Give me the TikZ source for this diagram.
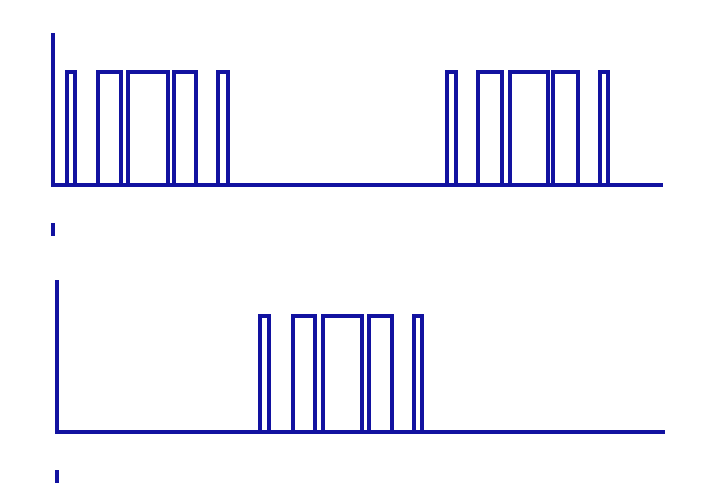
\documentclass[tikz,border=0pt]{standalone}
\definecolor{sigblue}{RGB}{18,18,160}
\begin{document}
\begin{tikzpicture}[x=1pt,y=-1pt,
  sig/.style={draw=sigblue,line width=3.2pt,line join=miter}]
\fill[white] (0,0) rectangle (702,483);
\useasboundingbox (0,0) rectangle (702,483);
% top panel axes
\draw[sig] (53,33) -- (53,185) -- (663,185);
\draw[sig] (53,223) -- (53,236);
\foreach \l/\r in {67/75,98/121,128/168,174/196,218/228,447/456,478/502,510/548,553/578,600/608}
  \draw[sig] (\l,185) -- (\l,72) -- (\r,72) -- (\r,185);
% bottom panel axes
\draw[sig] (57,280) -- (57,432) -- (665,432);
\draw[sig] (57,470) -- (57,483);
\foreach \l/\r in {260/269,293/315,323/362,369/392,414/422}
  \draw[sig] (\l,432) -- (\l,316) -- (\r,316) -- (\r,432);
\end{tikzpicture}
\end{document}
